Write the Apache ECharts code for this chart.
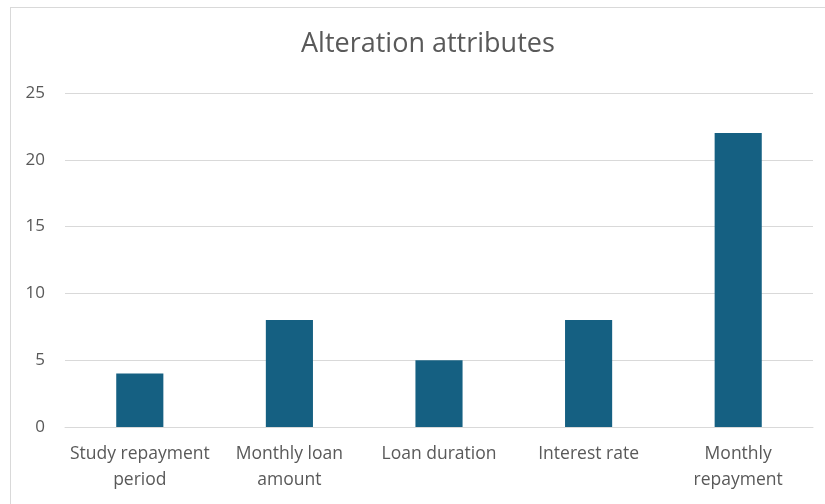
<!DOCTYPE html>
<html>
<head>
<meta charset="utf-8">
<script src="https://cdn.jsdelivr.net/npm/echarts@6/dist/echarts.min.js"></script>
<style>
  html, body { margin: 0; padding: 0; background: #fff; }
  #frame { position: absolute; left: 10px; top: 7px; width: 830px; height: 510px; border: 1px solid #d9d9d9; box-sizing: border-box; }
  #chart { width: 825px; height: 504px; position: absolute; left: 0; top: 0; }
</style>
</head>
<body>
<div id="frame"></div>
<div id="chart"></div>
<script>
const categories = ['Study repayment\nperiod', 'Monthly loan\namount', 'Loan duration', 'Interest rate', 'Monthly\nrepayment'];
const counts = [4, 8, 5, 8, 22];
const yTicks = { min: 0, max: 25, interval: 5 };

const font = '"Open Sans", Lato, sans-serif';
const chart = echarts.init(document.getElementById('chart'), null, { renderer: 'canvas' });
chart.setOption({
  animation: false,
  title: {
    text: 'Alteration attributes',
    left: 296,
    top: 26,
    textStyle: { fontFamily: font, fontSize: 27, fontWeight: 'normal', color: '#595959' }
  },
  grid: { left: 65, right: 12, top: 93, bottom: 77, containLabel: false },
  xAxis: {
    type: 'category',
    data: categories,
    axisLine: { lineStyle: { color: '#d9d9d9', width: 1 } },
    axisTick: { show: false },
    axisLabel: { fontFamily: font, fontSize: 17.5, color: '#595959', lineHeight: 26, margin: 14, interval: 0 }
  },
  yAxis: {
    type: 'value',
    min: yTicks.min,
    max: yTicks.max,
    interval: yTicks.interval,
    axisLine: { show: false },
    axisTick: { show: false },
    splitLine: { lineStyle: { color: '#d9d9d9', width: 1 } },
    axisLabel: { fontFamily: font, fontSize: 17, color: '#595959', margin: 20 }
  },
  series: [{
    type: 'bar',
    data: counts,
    barWidth: '31.5%',
    itemStyle: { color: '#156082' }
  }]
});
</script>
</body>
</html>
